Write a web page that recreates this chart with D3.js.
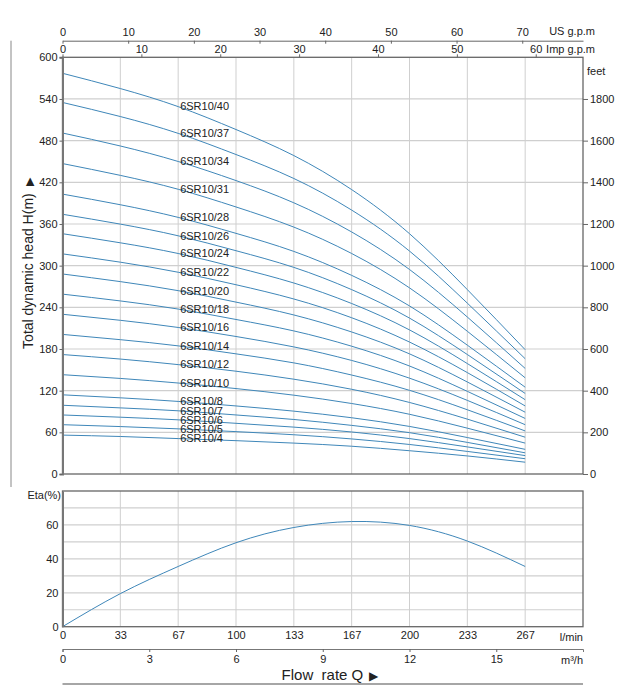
<!DOCTYPE html>
<html>
<head>
<meta charset="utf-8">
<script src="https://cdn.jsdelivr.net/npm/d3@7"></script>
<style>
  html, body { margin: 0; padding: 0; background: #fff; }
  svg { display: block; font-family: "Liberation Sans", Arial, sans-serif; }
  .tick text { font-size: 11px; fill: #222; }
</style>
</head>
<body>
<svg id="chart" width="620" height="696"></svg>
<script>
// ---------------- DATA ----------------
const flowQ = [0, 2, 4, 6, 8, 10, 12, 14, 16];            // m3/h
const models = ["6SR10/4","6SR10/5","6SR10/6","6SR10/7","6SR10/8","6SR10/10","6SR10/12",
  "6SR10/14","6SR10/16","6SR10/18","6SR10/20","6SR10/22","6SR10/24","6SR10/26","6SR10/28",
  "6SR10/31","6SR10/34","6SR10/37","6SR10/40"];
const h4  = [56, 54, 51, 48, 44.5, 40, 33.5, 26, 17];
const h5  = [71, 68.3, 65, 61, 56.5, 50.5, 42.5, 32.5, 22];
const h6  = [85, 81.8, 78, 73, 67.5, 60.5, 51, 39, 26.5];
const h7  = [99, 95.2, 91, 85, 78.5, 70, 59.5, 45.5, 30.5];
const h8  = [114, 109.7, 104.5, 98, 90.5, 81, 68.5, 52.5, 35.5];
const h10 = [143, 137.6, 131, 123, 113.5, 101.5, 86, 66, 44.5];
const h12 = [172, 165.5, 157.5, 148, 136.5, 122, 103, 79, 53];
const h14 = [201, 193.4, 184.5, 173, 160, 142.5, 120.5, 92.5, 62];
const h16 = [230, 221.3, 211, 198, 183, 163.5, 138, 106, 71];
const h18 = [259, 249.2, 237.5, 222.5, 206, 184, 155.5, 119, 80];
const h20 = [288, 277, 264, 247.5, 229, 204.5, 173, 132.5, 89];
const h22 = [317, 305, 290.5, 272.5, 252, 225, 190, 146, 98];
const h24 = [346, 332.9, 317.5, 297.5, 275, 245.5, 207.5, 159, 107];
const h26 = [374, 359.8, 343, 321.5, 297.5, 265.5, 224.5, 172, 116];
const h28 = [403, 387.7, 369.5, 346.5, 320.5, 286, 242, 185.5, 125];
const h31 = [447, 430, 410, 384.5, 355.5, 317.5, 268, 205.5, 138.5];
const h34 = [491, 472.3, 450, 422.5, 390.5, 348.5, 294.5, 226, 152];
const h37 = [535, 514.7, 490.5, 460, 425.5, 380, 321, 246, 166];
const h40 = [577, 555, 529, 496, 458.5, 409.5, 346, 265.5, 179];
const headSeries = [h4,h5,h6,h7,h8,h10,h12,h14,h16,h18,h20,h22,h24,h26,h28,h31,h34,h37,h40];

const etaValues = [0, 19.5, 35.5, 49.5, 58.5, 62, 59.7, 50.5, 35.5];   // %

const headTicks = [0, 60, 120, 180, 240, 300, 360, 420, 480, 540, 600];
const feetTicks = [0, 200, 400, 600, 800, 1000, 1200, 1400, 1600, 1800];
const usTicks = [0, 10, 20, 30, 40, 50, 60, 70];
const impTicks = [0, 10, 20, 30, 40, 50, 60];
const lpmTicks = [0, 33.33, 66.67, 100, 133.33, 166.67, 200, 233.33, 266.67];
const lpmLabels = ["0","33","67","100","133","167","200","233","267"];
const m3hTicks = [0, 3, 6, 9, 12, 15];
const etaTicks = [0, 20, 40, 60];

// ---------------- LAYOUT ----------------
const svg = d3.select("#chart");
const X0 = 62.5, X1 = 583;
const TOP = 57.3, BOT = 474;
const ETOP = 491, EBOT = 626.7;
const curveColor = "#3f87b9";
const gridColor = "#cfcfcf";
const borderColor = "#666";

const x = d3.scaleLinear().domain([0, 18]).range([X0, X1]);
const xUS = d3.scaleLinear().domain([0, 18 / 0.227125]).range([X0, X1]);
const xImp = d3.scaleLinear().domain([0, 18 / 0.272765]).range([X0, X1]);
const xLpm = d3.scaleLinear().domain([0, 300]).range([X0, X1]);
const y = d3.scaleLinear().domain([0, 600]).range([BOT, TOP]);
const yFt = d3.scaleLinear().domain([0, 2000]).range([BOT, TOP]);
const yEta = d3.scaleLinear().domain([0, 80]).range([EBOT, ETOP]);

const gridX = d3.range(0, 18.01, 2);

// left decorative line
svg.append("line").attr("x1", 11).attr("x2", 11).attr("y1", 40.7).attr("y2", 487)
  .attr("stroke", "#888").attr("stroke-width", 1);

// ---------- upper chart grid ----------
const gU = svg.append("g");
gU.selectAll(".vg").data(gridX.slice(1, -1)).join("line")
  .attr("x1", d => x(d)).attr("x2", d => x(d)).attr("y1", TOP).attr("y2", BOT)
  .attr("stroke", gridColor).attr("stroke-width", 1);
gU.selectAll(".hg").data(headTicks.slice(1, -1)).join("line")
  .attr("x1", X0).attr("x2", X1).attr("y1", d => y(d)).attr("y2", d => y(d))
  .attr("stroke", gridColor).attr("stroke-width", 1.2);

// curves
const line = d3.line().x((d, i) => x(flowQ[i])).y(d => y(d)).curve(d3.curveNatural);
svg.append("g").selectAll("path").data(headSeries).join("path")
  .attr("d", d => line(d)).attr("fill", "none")
  .attr("stroke", curveColor).attr("stroke-width", 1);

// model labels
svg.append("g").selectAll("text").data(headSeries).join("text")
  .attr("x", x(4.0) + 2)
  .attr("y", d => y(d[2]))
  .attr("dy", "0.35em")
  .attr("font-size", 11).attr("fill", "#222")
  .text((d, i) => models[i]);

// border
svg.append("rect").attr("x", X0).attr("y", TOP).attr("width", X1 - X0).attr("height", BOT - TOP)
  .attr("fill", "none").attr("stroke", borderColor).attr("stroke-width", 1.3);

// axes
function styleAxis(g) {
  g.selectAll(".domain").attr("stroke", borderColor).attr("stroke-width", 1.3);
  g.selectAll(".tick line").attr("stroke", borderColor);
  g.selectAll(".tick text").attr("font-size", 11).attr("fill", "#222")
    .attr("font-family", "'Liberation Sans', Arial, sans-serif");
}
svg.append("g").attr("transform", `translate(${X0},0)`)
  .call(d3.axisLeft(y).tickValues(headTicks).tickSize(3).tickPadding(2))
  .call(g => { styleAxis(g); g.select(".domain").attr("stroke-width", 2).attr("stroke", "#777"); });
svg.append("g").attr("transform", `translate(${X1},0)`)
  .call(d3.axisRight(yFt).tickValues(feetTicks).tickFormat(d3.format("d")).tickSize(5).tickSizeOuter(0).tickPadding(2))
  .call(g => { styleAxis(g); g.select(".domain").remove(); });
svg.append("text").attr("x", 587).attr("y", 71).attr("dy", "0.35em")
  .attr("font-size", 11).attr("fill", "#222").text("feet");

// top axes
svg.append("g").attr("transform", `translate(0,40.7)`)
  .call(d3.axisTop(xUS).tickValues(usTicks).tickSizeInner(-3).tickSizeOuter(0).tickPadding(5))
  .call(g => { styleAxis(g); g.select(".domain").attr("stroke-width", 1); });
svg.append("text").attr("x", 595).attr("y", 31).attr("dy", "0.35em").attr("text-anchor", "end")
  .attr("font-size", 11).attr("fill", "#222").text("US g.p.m");
svg.append("g").attr("transform", `translate(0,${TOP})`)
  .call(d3.axisTop(xImp).tickValues(impTicks).tickSize(3).tickSizeOuter(0).tickPadding(1))
  .call(g => { styleAxis(g); g.select(".domain").remove(); });
svg.append("text").attr("x", 595).attr("y", 49).attr("dy", "0.35em").attr("text-anchor", "end")
  .attr("font-size", 11).attr("fill", "#222").text("Imp g.p.m");

// y title
svg.append("text")
  .attr("transform", `translate(33,${(TOP + BOT) / 2 - 2}) rotate(-90)`)
  .attr("text-anchor", "middle").attr("font-size", 14).attr("fill", "#222")
  .text("Total dynamic head H(m) ")
  .append("tspan").attr("font-size", 11).attr("dx", 3).text("▶");

// ---------- efficiency chart ----------
const gE = svg.append("g");
gE.selectAll(".vg").data(gridX.slice(1, -1)).join("line")
  .attr("x1", d => x(d)).attr("x2", d => x(d)).attr("y1", ETOP).attr("y2", EBOT)
  .attr("stroke", gridColor).attr("stroke-width", 1);
gE.selectAll(".hg").data(d3.range(10, 80, 10)).join("line")
  .attr("x1", X0).attr("x2", X1).attr("y1", d => yEta(d)).attr("y2", d => yEta(d))
  .attr("stroke", gridColor).attr("stroke-width", 1.2);

const etaLine = d3.line().x((d, i) => x(flowQ[i])).y(d => yEta(d)).curve(d3.curveNatural);
svg.append("path").attr("d", etaLine(etaValues)).attr("fill", "none")
  .attr("stroke", curveColor).attr("stroke-width", 1);

svg.append("rect").attr("x", X0).attr("y", ETOP).attr("width", X1 - X0).attr("height", EBOT - ETOP)
  .attr("fill", "none").attr("stroke", borderColor).attr("stroke-width", 1.3);

svg.append("g").attr("transform", `translate(${X0},0)`)
  .call(d3.axisLeft(yEta).tickValues(etaTicks).tickSize(0).tickPadding(4))
  .call(g => { styleAxis(g); g.select(".domain").attr("stroke-width", 2).attr("stroke", "#777"); });
svg.append("text").attr("x", 61).attr("y", 495).attr("dy", "0.35em").attr("text-anchor", "end")
  .attr("font-size", 11).attr("fill", "#222").text("Eta(%)");

// l/min labels
svg.append("g").attr("transform", `translate(0,${EBOT})`)
  .call(d3.axisBottom(xLpm).tickValues(lpmTicks).tickFormat((d, i) => lpmLabels[i]).tickSize(0).tickPadding(5))
  .call(g => { styleAxis(g); g.select(".domain").remove(); });
svg.append("text").attr("x", X1).attr("y", 637).attr("dy", "0.35em").attr("text-anchor", "end")
  .attr("font-size", 11).attr("fill", "#222").text("l/min");

// m3/h axis
svg.append("g").attr("transform", `translate(0,649)`)
  .call(d3.axisBottom(x).tickValues(m3hTicks).tickSizeInner(3).tickSizeOuter(3).tickPadding(3))
  .call(g => { styleAxis(g); g.select(".domain").attr("stroke-width", 1).attr("stroke", "#777"); });
svg.append("text").attr("x", X1).attr("y", 660).attr("dy", "0.35em").attr("text-anchor", "end")
  .attr("font-size", 11).attr("fill", "#222").text("m³/h");

// x title
svg.append("text").attr("x", 330).attr("y", 675).attr("dy", "0.35em").attr("text-anchor", "middle")
  .attr("font-size", 15).attr("fill", "#222")
  .text("Flow\u00a0 rate Q ")
  .append("tspan").attr("font-size", 12).attr("dx", 2).text("▶");

svg.append("line").attr("x1", X0).attr("x2", X1).attr("y1", 684).attr("y2", 684)
  .attr("stroke", "#888").attr("stroke-width", 1.3);
</script>
</body>
</html>
